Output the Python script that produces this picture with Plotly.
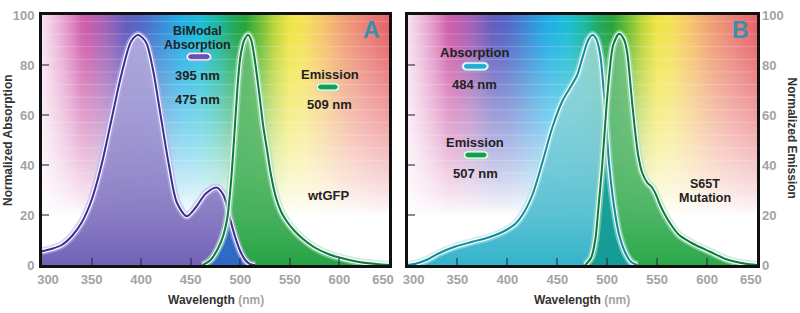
import base64
import struct
import zlib

import numpy as np
import plotly.graph_objects as go

# ---------------- data ----------------
wl_ticks = [300, 350, 400, 450, 500, 550, 600, 650]
wl_labels = ["300", "350", "400", "450", "500", "550", "600", "650"]
y_ticks = [0, 20, 40, 60, 80, 100]

# Panel A : wild-type GFP
abs_a_nm = [300, 310, 320, 330, 340, 350, 360, 370, 380, 390, 397, 405, 412, 420, 428,
            436, 446, 455, 465, 476, 483, 490, 495, 500, 505, 510, 515]
abs_a_val = [5.5, 6.5, 8, 11.5, 17, 26, 40, 58, 76, 89.5, 92, 89, 78, 59, 40,
             25, 19.5, 23, 28.5, 31, 28, 18, 11, 5.5, 2, 0.3, 0]
em_a_nm = [462, 470, 478, 483, 487, 491, 494, 497, 500, 504, 508, 511, 515, 519, 523,
           527, 531, 536, 541, 546, 555, 563, 575, 590, 600, 620, 640, 650]
em_a_val = [0, 2, 7, 12, 19, 35, 52, 70, 83, 90, 92, 90, 81, 69, 56,
            46, 36, 27, 21.5, 18, 13.5, 10.5, 7, 4.2, 3, 1.2, 0.3, 0]

# Panel B : S65T mutant
abs_b_nm = [300, 308, 320, 331, 348, 365, 381, 398, 408, 415, 425, 435, 445, 455, 463,
            470, 476, 481, 485, 489, 493, 497, 502, 507, 512, 518, 524, 530]
abs_b_val = [0, 0.5, 2.2, 4.6, 7.4, 9.3, 11, 13.8, 16.5, 20, 28, 41, 55, 65.5, 71,
             76, 84, 90, 92, 90.5, 84, 67, 40, 23, 12, 5, 1.2, 0]
em_b_nm = [478, 484, 488, 491, 495, 499, 502, 506, 512, 517, 520, 524, 527, 531, 535,
           540, 545, 549, 553, 558, 565, 572, 586, 603, 620, 637, 650]
em_b_val = [0, 3, 10, 22, 40, 62, 76, 88, 92.5, 90, 85, 69, 57, 44, 37,
            33, 31, 28, 24, 20, 15.5, 12, 8.5, 5.3, 2.2, 0.6, 0]

# ---------------- background spectrum image ----------------
spec_nm = [300, 330, 345, 365, 385, 400, 420, 440, 460, 478, 492, 505, 520, 535, 550,
           565, 585, 605, 630, 650]
spec_rgb = [(225, 140, 195), (215, 110, 180), (205, 95, 170), (160, 100, 185),
            (100, 95, 190), (85, 105, 200), (60, 140, 215), (35, 175, 230),
            (30, 190, 215), (30, 185, 160), (35, 170, 95), (40, 165, 60),
            (110, 190, 55), (190, 215, 60), (240, 230, 70), (245, 225, 90),
            (245, 195, 110), (240, 160, 120), (235, 125, 120), (230, 100, 105)]


def spectrum_png(W=347, H=257):
    xs = 300 + (np.arange(W) + 0.5) / W * 350
    vs = 100 - (np.arange(H) + 0.5) / H * 100
    sn = np.array(spec_nm, float)
    sc = np.array(spec_rgb, float)
    col = np.stack([np.interp(xs, sn, sc[:, k]) for k in range(3)], axis=1)
    h = 0.25 + 0.75 * np.clip((xs - 300) / 40, 0, 1)
    a = np.clip((vs - 20) / 75, 0, 1) ** 0.8
    stripe = np.ones(H)
    stripe[(np.arange(H) % 13) == 6] = 0.8
    A = (a * stripe)[:, None] * h[None, :]
    img = 255 * (1 - A[:, :, None]) + col[None, :, :] * A[:, :, None]
    img = np.clip(img, 0, 255).astype(np.uint8)
    raw = b"".join(b"\x00" + img[j].tobytes() for j in range(H))

    def chunk(t, d):
        return struct.pack(">I", len(d)) + t + d + struct.pack(">I", zlib.crc32(t + d) & 0xffffffff)

    png = (b"\x89PNG\r\n\x1a\n" + chunk(b"IHDR", struct.pack(">IIBBBBB", W, H, 8, 2, 0, 0, 0))
           + chunk(b"IDAT", zlib.compress(raw, 9)) + chunk(b"IEND", b""))
    return "data:image/png;base64," + base64.b64encode(png).decode()


def overlap(x1, y1, x2, y2):
    lo, hi = max(x1[0], x2[0]), min(x1[-1], x2[-1])
    g = np.union1d(x1, x2)
    g = g[(g >= lo) & (g <= hi)]
    return g, np.minimum(np.interp(g, x1, y1), np.interp(g, x2, y2))


fig = go.Figure()


def add_fill(x, y, xa, ya, bottom, top):
    fig.add_trace(go.Scatter(
        x=x, y=y, xaxis=xa, yaxis=ya, mode="lines", fill="tozeroy",
        line=dict(width=0, shape="spline", smoothing=0.8),
        fillgradient=dict(type="vertical", start=0, stop=95,
                          colorscale=[[0, bottom], [1, top]]),
        hoverinfo="skip", showlegend=False))


def add_line(x, y, xa, ya, glow, dark):
    for w, c in [(8, glow), (4.5, "rgba(255,255,255,0.9)"), (2, dark)]:
        fig.add_trace(go.Scatter(
            x=x, y=y, xaxis=xa, yaxis=ya, mode="lines",
            line=dict(width=w, color=c, shape="spline", smoothing=0.8),
            hoverinfo="skip", showlegend=False))


# Panel A fills
add_fill(abs_a_nm, abs_a_val, "x", "y", "rgba(106,90,178,0.97)", "rgba(196,188,230,0.75)")
add_fill(em_a_nm, em_a_val, "x", "y", "rgba(30,160,62,0.98)", "rgba(120,198,128,0.68)")
ox, oy = overlap(abs_a_nm, abs_a_val, em_a_nm, em_a_val)
add_fill(ox, oy, "x", "y", "rgba(45,105,195,1)", "rgba(70,125,205,1)")
# Panel B fills
add_fill(abs_b_nm, abs_b_val, "x2", "y2", "rgba(40,175,200,0.97)", "rgba(185,225,228,0.7)")
add_fill(em_b_nm, em_b_val, "x2", "y2", "rgba(35,165,65,0.98)", "rgba(125,198,145,0.66)")
ox, oy = overlap(abs_b_nm, abs_b_val, em_b_nm, em_b_val)
add_fill(ox, oy, "x2", "y2", "rgba(20,155,150,1)", "rgba(40,170,165,1)")

# outlines (on overlaid axes that also carry the tick labels)
add_line(abs_a_nm, abs_a_val, "x3", "y", "rgba(185,175,235,0.55)", "#3b2f8f")
add_line(em_a_nm, em_a_val, "x3", "y", "rgba(165,225,185,0.55)", "#0d7a40")
add_line(abs_b_nm, abs_b_val, "x4", "y3", "rgba(165,225,230,0.55)", "#138c98")
add_line(em_b_nm, em_b_val, "x4", "y3", "rgba(165,225,185,0.55)", "#0d7a45")

bg = spectrum_png()
images = [
    dict(source=bg, xref="x", yref="y", x=300, y=100, sizex=350, sizey=100,
         sizing="stretch", layer="below", xanchor="left", yanchor="top"),
    dict(source=bg, xref="x2", yref="y2", x=300, y=100, sizex=350, sizey=100,
         sizing="stretch", layer="below", xanchor="left", yanchor="top"),
]

TXT = "#222222"
GRAY = "#a3a3a3"
FONT = "Liberation Sans"


def note(text, x, y, xr, yr, size=13, color=TXT):
    return dict(text="<b>%s</b>" % text, x=x, y=y, xref=xr, yref=yr, showarrow=False,
                font=dict(family=FONT, size=size, color=color), xanchor="center", yanchor="middle")


annotations = [
    note("BiModal", 457, 93.6, "x", "y", size=12.5),
    note("Absorption", 457, 88.1, "x", "y", size=12.5),
    note("395 nm", 457, 75.9, "x", "y"),
    note("475 nm", 457, 66.1, "x", "y"),
    note("Emission", 590, 76.3, "x", "y"),
    note("509 nm", 590, 64.2, "x", "y"),
    note("wtGFP", 588, 28, "x", "y"),
    note("A", 632, 94, "x", "y", size=23, color="#3a8fb0"),
    note("Absorption", 367, 85.2, "x2", "y2"),
    note("484 nm", 367, 72.4, "x2", "y2"),
    note("Emission", 368, 49, "x2", "y2"),
    note("507 nm", 368, 36.6, "x2", "y2"),
    note("S65T", 597.6, 32.5, "x2", "y2", size=12.5),
    note("Mutation", 597.6, 27.0, "x2", "y2", size=12.5),
    note("B", 633, 94, "x2", "y2", size=23, color="#3a8fb0"),
]


# paper coordinates from pixel positions (plot area: x 42..757, y 8..265)
def px(xp):
    return (xp - 42) / 715.0


def py(yp):
    return (265 - yp) / 257.0


for xc in [215.5, 582]:
    annotations.append(dict(
        text="<b>Wavelength</b> <b><span style='color:%s'>(nm)</span></b>" % GRAY,
        x=px(xc), y=py(301), xref="paper", yref="paper", showarrow=False,
        font=dict(family=FONT, size=12, color="#333333"), xanchor="center", yanchor="middle"))
annotations.append(dict(text="<b>Normalized Absorption</b>", x=px(8.5), y=py(137),
                        xref="paper", yref="paper", showarrow=False, textangle=-90,
                        font=dict(family=FONT, size=12, color="#333333"),
                        xanchor="center", yanchor="middle"))
annotations.append(dict(text="<b>Normalized Emission</b>", x=px(792), y=py(134),
                        xref="paper", yref="paper", showarrow=False, textangle=90,
                        font=dict(family=FONT, size=12, color="#333333"),
                        xanchor="center", yanchor="middle"))


# legend pills (capsules) in data coordinates
def capsule(x0, x1, yc, rpx, xa, ya, fill, line):
    rx, ry = rpx / 0.993, rpx / 2.57
    k = 0.5523
    p = (f"M {x0+rx},{yc-ry} L {x1-rx},{yc-ry} "
         f"C {x1-rx+k*rx},{yc-ry} {x1},{yc-k*ry} {x1},{yc} "
         f"C {x1},{yc+k*ry} {x1-rx+k*rx},{yc+ry} {x1-rx},{yc+ry} "
         f"L {x0+rx},{yc+ry} "
         f"C {x0+rx-k*rx},{yc+ry} {x0},{yc+k*ry} {x0},{yc} "
         f"C {x0},{yc-k*ry} {x0+rx-k*rx},{yc-ry} {x0+rx},{yc-ry} Z")
    return dict(type="path", path=p, xref=xa, yref=ya, fillcolor=fill,
                line=dict(color=line, width=1), layer="above")


shapes = []
for x0, x1, yc, xa, ya, c, edge in [
    (445.7, 470.9, 83.3, "x", "y", "#6252b4", "#b8b0e0"),
    (576.6, 600.0, 71.2, "x", "y", "#12a050", "#b0e0c0"),
    (354.6, 381.0, 79.5, "x2", "y2", "#22aed0", "#a8dce8"),
    (356.0, 381.0, 44.0, "x2", "y2", "#14a04c", "#b0e0c0"),
]:
    shapes.append(capsule(x0, x1, yc, 4.2, xa, ya, "white", edge))
    shapes.append(capsule(x0 + 2.2, x1 - 2.2, yc, 2.0, xa, ya, c, c))

# end tick labels sit slightly inward of the frame in the reference (~6 px)
inset = 6 / 0.993
label_pos = [wl_ticks[0] + inset] + wl_ticks[1:-1] + [wl_ticks[-1] - inset]

tickfont = dict(family=FONT, size=13, color=GRAY, weight="bold")
axis_common = dict(showgrid=False, zeroline=False, showline=True, linewidth=3,
                   linecolor="#111111", mirror=True, ticks="inside", ticklen=7,
                   tickwidth=1.5, tickcolor="rgba(40,40,70,0.55)", tickfont=tickfont)
label_axis = dict(range=[300, 650], tickvals=label_pos, ticktext=wl_labels,
                  showgrid=False, zeroline=False, showline=False, ticks="",
                  tickfont=tickfont, ticklabelstandoff=5, side="bottom")

fig.update_layout(
    width=800, height=313,
    margin=dict(l=42, r=43, t=8, b=48),
    paper_bgcolor="white", plot_bgcolor="rgba(0,0,0,0)",
    xaxis=dict(domain=[0, 0.4853], range=[300, 650], tickvals=wl_ticks, anchor="y",
               showticklabels=False, **axis_common),
    yaxis=dict(domain=[0, 1], range=[0, 100], tickvals=y_ticks, anchor="x",
               ticklabelstandoff=2, **axis_common),
    xaxis2=dict(domain=[0.5112, 1], range=[300, 650], tickvals=wl_ticks, anchor="y2",
                showticklabels=False, **axis_common),
    yaxis2=dict(domain=[0, 1], range=[0, 100], tickvals=y_ticks, anchor="x2",
                showticklabels=False, **axis_common),
    xaxis3=dict(overlaying="x", anchor="y", **label_axis),
    xaxis4=dict(overlaying="x2", anchor="y2", **label_axis),
    yaxis3=dict(domain=[0, 1], range=[0, 100], tickvals=y_ticks, anchor="x2",
                overlaying="y2", side="right", showgrid=False, zeroline=False,
                showline=False, ticks="", tickfont=tickfont, ticklabelstandoff=4),
    images=images, annotations=annotations, shapes=shapes,
    showlegend=False,
)

fig.write_html("out.html", config={"displayModeBar": False},
               post_script="document.body.style.margin='0';document.body.style.overflow='hidden';")
